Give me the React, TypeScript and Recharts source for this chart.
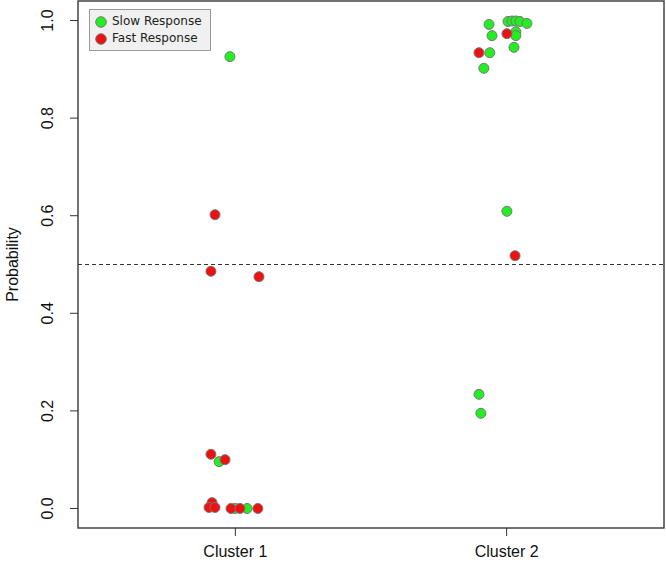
import React from "react";
import {
  ScatterChart,
  Scatter,
  XAxis,
  YAxis,
  ReferenceLine,
  ReferenceArea,
  Legend,
} from "recharts";

// jittered x positions (group 1 / group 2) and probabilities
const slowX = [0.98, 0.94, 0.999, 1.043, 1.935, 2.005, 2.02, 2.034, 2.049, 2.075, 1.946, 2.034, 2.034, 2.027, 1.938, 1.916, 2.001, 1.898, 1.905];
const slowY = [0.926, 0.096, 0.0, 0.0, 0.992, 0.998, 0.999, 0.999, 0.998, 0.994, 0.969, 0.977, 0.969, 0.945, 0.934, 0.902, 0.609, 0.234, 0.195];
const fastX = [0.925, 0.91, 1.087, 0.91, 0.962, 0.914, 0.903, 0.925, 0.984, 1.017, 1.083, 2.001, 1.898, 2.031];
const fastY = [0.602, 0.486, 0.475, 0.111, 0.1, 0.012, 0.002, 0.002, 0.0, 0.0, 0.0, 0.973, 0.934, 0.518];

const clusters = ["Cluster 1", "Cluster 2"];
const yTicks = [0, 0.2, 0.4, 0.6, 0.8, 1.0];
const seriesNames = ["Slow Response", "Fast Response"];
const GREEN = "#22ee22";
const RED = "#ee1111";
const FONT = "Liberation Sans, Arial, sans-serif";

const slowData = slowX.map((x, i) => ({ x, y: slowY[i] }));
const fastData = fastX.map((x, i) => ({ x, y: fastY[i] }));

const dot = (fill: string) => (props: any) => (
  <circle cx={props.cx} cy={props.cy} r={5} fill={fill} stroke="#777" strokeWidth={1} />
);

const YTick = ({ y, payload }: any) => (
  <text
    x={48}
    y={y}
    transform={`rotate(-90, 48, ${y})`}
    textAnchor="middle"
    dominantBaseline="central"
    fontSize={16}
    fontFamily={FONT}
    fill="#111"
  >
    {payload.value.toFixed(1)}
  </text>
);

const XTick = ({ x, payload }: any) => (
  <text x={x} y={551} textAnchor="middle" dominantBaseline="central" fontSize={16} fontFamily={FONT} fill="#111">
    {clusters[payload.value - 1]}
  </text>
);

const YLabel = ({ viewBox }: any) => {
  const cy = viewBox.y + viewBox.height / 2;
  return (
    <text
      x={12}
      y={cy}
      transform={`rotate(-90, 12, ${cy})`}
      textAnchor="middle"
      dominantBaseline="central"
      fontSize={16}
      fontFamily={FONT}
      fill="#111"
    >
      Probability
    </text>
  );
};

const LegendBox = () => (
  <div
    style={{
      background: "#f0f0f0",
      border: "1px solid #999",
      padding: "3px 8px 3px 5px",
      fontFamily: "DejaVu Sans, sans-serif",
      fontSize: 12,
      color: "#222",
      lineHeight: "17px",
    }}
  >
    {seriesNames.map((name, i) => (
      <div key={name} style={{ display: "flex", alignItems: "center" }}>
        <svg width={12} height={12} style={{ marginRight: 5 }}>
          <circle cx={6} cy={6} r={5.3} fill={i === 0 ? GREEN : RED} stroke="#777" />
        </svg>
        {name}
      </div>
    ))}
  </div>
);

export default function App() {
  return (
    <div style={{ position: "absolute", left: 0, top: 0, background: "#fff" }}>
      <ScatterChart width={666} height={565} margin={{ top: 1, right: 2, bottom: 0, left: 0 }}>
        <XAxis
          type="number"
          dataKey="x"
          domain={[0.42, 2.58]}
          ticks={[1, 2]}
          tick={<XTick />}
          tickSize={8}
          tickLine={{ stroke: "#333" }}
          axisLine={false}
          height={37}
          allowDataOverflow
        />
        <YAxis
          type="number"
          dataKey="y"
          domain={[-0.04, 1.04]}
          ticks={yTicks}
          tick={<YTick />}
          tickSize={8}
          tickLine={{ stroke: "#333" }}
          axisLine={false}
          width={78}
          allowDataOverflow
          label={<YLabel />}
        />
        <ReferenceArea x1={0.42} x2={2.58} y1={-0.04} y2={1.04} fill="none" stroke="#444" strokeWidth={1.5} />
        <ReferenceLine y={0.5} stroke="#333" strokeDasharray="4 3" strokeWidth={1.2} />
        <Legend
          layout="horizontal"
          verticalAlign="middle"
          wrapperStyle={{ position: "absolute", left: 89, top: 9, width: "auto" }}
          content={<LegendBox />}
        />
        <Scatter name={seriesNames[0]} data={slowData} fill={GREEN} shape={dot(GREEN)} isAnimationActive={false} />
        <Scatter name={seriesNames[1]} data={fastData} fill={RED} shape={dot(RED)} isAnimationActive={false} />
      </ScatterChart>
    </div>
  );
}
